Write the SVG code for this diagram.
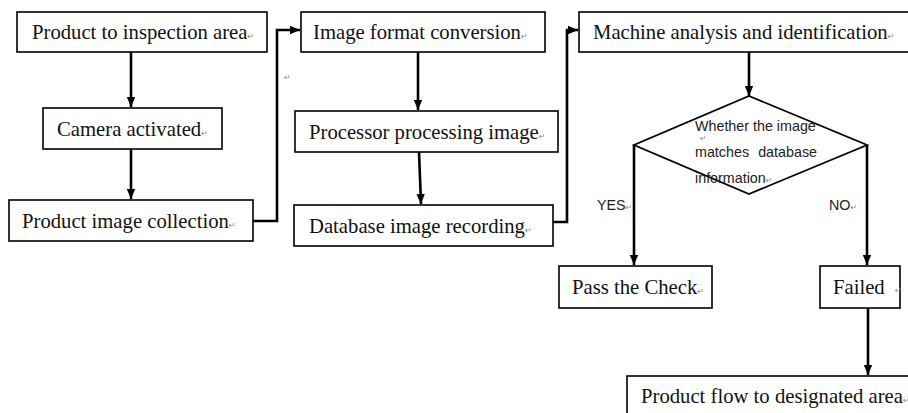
<svg xmlns="http://www.w3.org/2000/svg" width="908" height="413" viewBox="0 0 908 413">
  <style>
    .box { fill: #fff; stroke: #000; stroke-width: 1.6; }
    .lbl { font-family: "Liberation Serif", "Times New Roman", serif; font-size: 20.7px; fill: #111; }
    .sans { font-family: "Liberation Sans", Arial, sans-serif; font-size: 14.3px; fill: #222; }
    .pm { font-family: "DejaVu Sans", sans-serif; font-size: 8px; fill: #888; }
    .conn { fill: none; stroke: #000; stroke-width: 2.6; }
    .dia { fill: none; stroke: #000; stroke-width: 1.8; }
  </style>
  <defs>
    <marker id="arrow" markerUnits="userSpaceOnUse" viewBox="0 0 10 10" refX="10" refY="5" markerWidth="10" markerHeight="10" orient="auto">
      <path d="M0,0.8 L10,5 L0,9.2 z" fill="#000"/>
    </marker>
  </defs>

  <rect width="908" height="413" fill="#fff"/>

  <!-- process boxes -->
  <g id="n-product-to-inspection">
    <rect class="box" x="17" y="12" width="250" height="40"/>
    <text class="lbl" x="32" y="39">Product to inspection area<tspan class="pm">↵</tspan></text>
  </g>
  <g id="n-camera-activated">
    <rect class="box" x="43" y="108" width="179" height="41"/>
    <text class="lbl" x="57" y="136">Camera activated<tspan class="pm">↵</tspan></text>
  </g>
  <g id="n-image-collection">
    <rect class="box" x="9" y="200" width="244" height="41"/>
    <text class="lbl" x="22" y="228">Product image collection<tspan class="pm">↵</tspan></text>
  </g>
  <g id="n-format-conversion">
    <rect class="box" x="301" y="12" width="244" height="40"/>
    <text class="lbl" x="313" y="39">Image format conversion<tspan class="pm">↵</tspan></text>
  </g>
  <g id="n-processor">
    <rect class="box" x="295" y="111" width="263" height="41"/>
    <text class="lbl" x="309" y="139">Processor processing image<tspan class="pm">↵</tspan></text>
  </g>
  <g id="n-database-recording">
    <rect class="box" x="294" y="205" width="259" height="41"/>
    <text class="lbl" x="309" y="233">Database image recording<tspan class="pm">↵</tspan></text>
  </g>
  <g id="n-machine-analysis">
    <rect class="box" x="579" y="12" width="340" height="40"/>
    <text class="lbl" x="593" y="39">Machine analysis and identification<tspan class="pm">↵</tspan></text>
  </g>
  <g id="n-decision">
    <polygon class="dia" points="749,96 867,145 749,194 634,145"/>
    <text class="sans" x="695" y="131">Whether the image</text>
    <text class="sans" x="695" y="157">matches</text>
    <text class="sans" x="817" y="157" text-anchor="end">database</text>
    <text class="sans" x="695" y="183">information<tspan class="pm">↵</tspan></text>
    <text class="pm" x="700" y="141" font-size="6">↵</text>
  </g>
  <g id="n-pass">
    <rect class="box" x="559" y="266" width="153" height="42"/>
    <text class="lbl" x="572" y="294">Pass the Check<tspan class="pm">↵</tspan></text>
  </g>
  <g id="n-failed">
    <rect class="box" x="820" y="266" width="80" height="42"/>
    <text class="lbl" x="833" y="294">Failed</text>
    <text class="pm" x="895" y="293">↵</text>
  </g>
  <g id="n-flow-designated">
    <rect class="box" x="627" y="376" width="300" height="60"/>
    <text class="lbl" x="641" y="403">Product flow to designated area<tspan class="pm">↵</tspan></text>
  </g>

  <!-- stray paragraph mark -->
  <text class="pm" x="284" y="80">↵</text>

  <!-- connectors -->
  <g id="connectors">
    <path class="conn" d="M131,52 V107" marker-end="url(#arrow)"/>
    <path class="conn" d="M131,149 V199" marker-end="url(#arrow)"/>
    <path class="conn" d="M253,221 H277 V30 H300" marker-end="url(#arrow)"/>
    <path class="conn" d="M418,52 V110" marker-end="url(#arrow)"/>
    <path class="conn" d="M419,152 L421,204" marker-end="url(#arrow)"/>
    <path class="conn" d="M553,222 H567 V30 H578" marker-end="url(#arrow)"/>
    <path class="conn" d="M749,52 V96" marker-end="url(#arrow)"/>
    <path class="conn" d="M634,145 V265" marker-end="url(#arrow)"/>
    <path class="conn" d="M867,145 V265" marker-end="url(#arrow)"/>
    <path class="conn" d="M868,308 V375" marker-end="url(#arrow)"/>
    <text class="sans" x="597" y="210">YES<tspan class="pm">↵</tspan></text>
    <text class="sans" x="829" y="210">NO<tspan class="pm">↵</tspan></text>
  </g>
</svg>
